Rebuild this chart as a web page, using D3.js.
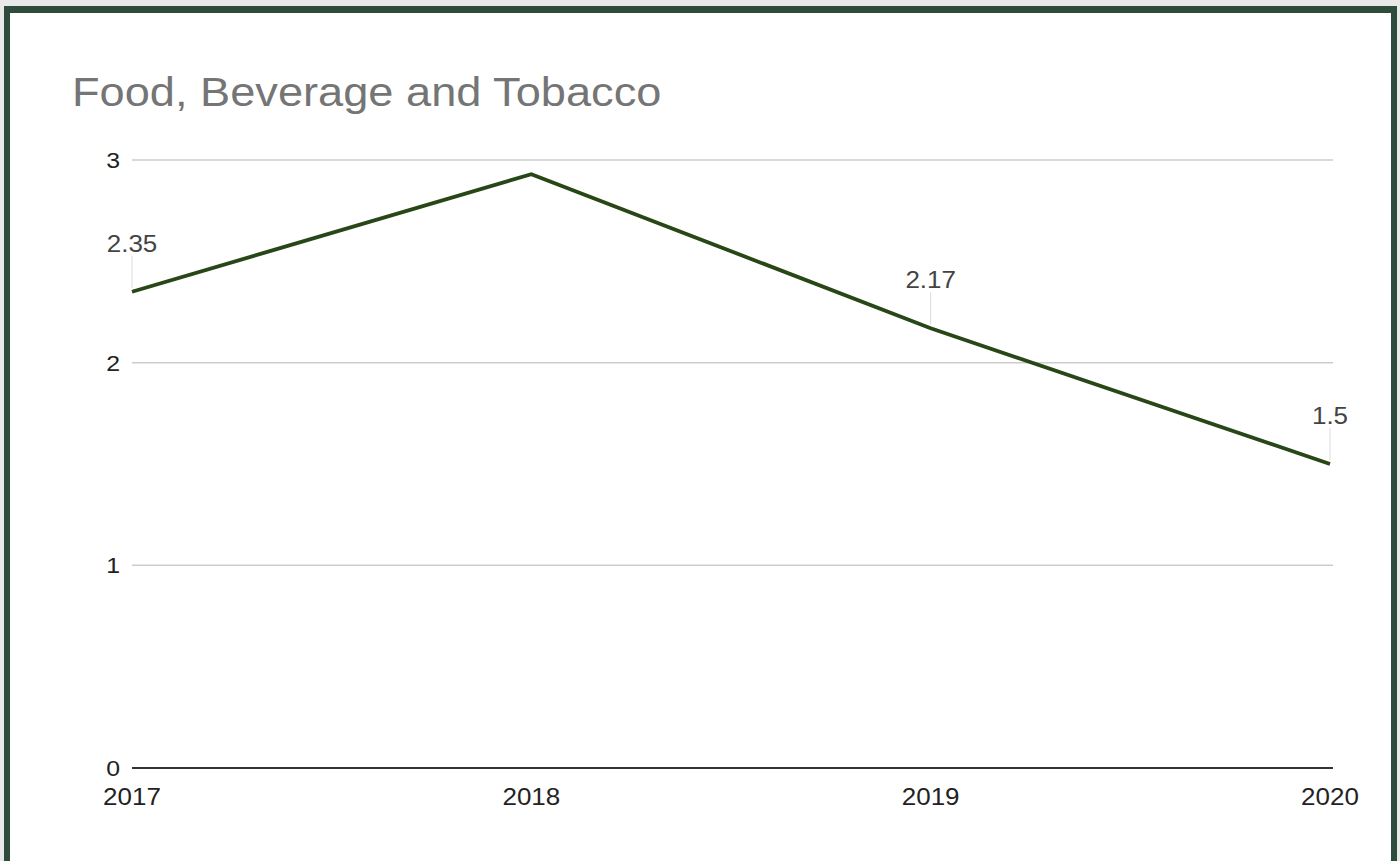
<!DOCTYPE html>
<html><head><meta charset="utf-8">
<script src="https://cdn.jsdelivr.net/npm/d3@7"></script>
<style>
html,body{margin:0;padding:0;background:#e8e9e8;}
svg{display:block;}
</style></head>
<body>
<svg id="chart" width="1400" height="861"></svg>
<script>
const title = "Food, Beverage and Tobacco";
const years = ["2017", "2018", "2019", "2020"];
const values = [2.35, 2.93, 2.17, 1.5];
const dataLabels = ["2.35", "", "2.17", "1.5"];
const yTicks = [0, 1, 2, 3];

const svg = d3.select("#chart");
const W = 1400, H = 861;
const font = "'Liberation Sans', Arial, sans-serif";
const SX = 1.13; // horizontal stretch of text seen in reference

// frame
svg.append("rect").attr("x", 0).attr("y", 0).attr("width", W).attr("height", H).attr("fill", "#e8e9e8");
svg.append("rect").attr("x", 4).attr("y", 6).attr("width", 1393).attr("height", H).attr("fill", "#2e4b3c");
svg.append("rect").attr("x", 10).attr("y", 13).attr("width", 1381).attr("height", H).attr("fill", "#ffffff");

const x = d3.scalePoint().domain(years).range([132, 1330]);
const y = d3.scaleLinear().domain([0, 3]).range([768, 160]);

function tr(px, py) { return `translate(${px},${py}) scale(${SX},1)`; }

svg.append("text").attr("transform", tr(72, 106))
  .attr("font-family", font).attr("font-size", 40).attr("fill", "#757575")
  .text(title);

// grid
const grid = svg.append("g");
grid.selectAll("line").data(yTicks.filter(d => d > 0)).join("line")
  .attr("x1", 132).attr("x2", 1333)
  .attr("y1", d => y(d)).attr("y2", d => y(d))
  .attr("stroke", "#cccccc").attr("stroke-width", 1.5);

// y labels
svg.append("g").selectAll("text").data(yTicks).join("text")
  .attr("transform", d => tr(120, y(d) + 8))
  .attr("text-anchor", "end")
  .attr("font-family", font).attr("font-size", 22).attr("fill", "#222")
  .text(d => d);

// baseline
svg.append("line").attr("x1", 132).attr("x2", 1333).attr("y1", y(0)).attr("y2", y(0))
  .attr("stroke", "#333").attr("stroke-width", 2);

// x labels
svg.append("g").selectAll("text").data(years).join("text")
  .attr("transform", d => tr(x(d), 805))
  .attr("text-anchor", "middle")
  .attr("font-family", font).attr("font-size", 23).attr("fill", "#222")
  .text(d => d);

// line
const pts = years.map((yr, i) => [x(yr), y(values[i])]);
svg.append("path").attr("d", d3.line()(pts))
  .attr("fill", "none").attr("stroke", "#284716").attr("stroke-width", 3.8)
  .attr("stroke-linejoin", "miter");

// data labels with leaders
const lab = svg.append("g");
years.forEach((yr, i) => {
  if (!dataLabels[i]) return;
  const px = x(yr), py = y(values[i]);
  lab.append("line").attr("x1", px).attr("x2", px).attr("y1", py - 4).attr("y2", py - 36)
    .attr("stroke", "#dcdcdc").attr("stroke-width", 1);
  lab.append("text").attr("transform", tr(px, py - 40))
    .attr("text-anchor", "middle")
    .attr("font-family", font).attr("font-size", 23).attr("fill", "#444")
    .text(dataLabels[i]);
});
</script>
</body></html>
